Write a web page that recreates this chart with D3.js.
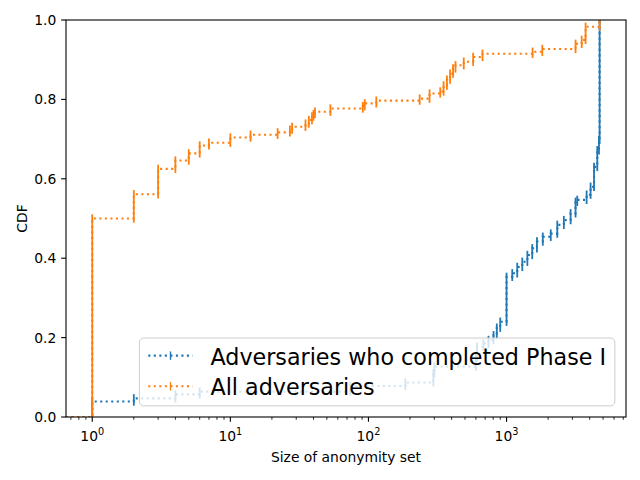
<!DOCTYPE html>
<html>
<head>
<meta charset="utf-8">
<script src="https://cdn.jsdelivr.net/npm/d3@7"></script>
<style>
  body { margin: 0; background: #fff; }
  svg { font-family: "DejaVu Sans", sans-serif; }
</style>
</head>
<body>
<div id="chart"></div>
<script>
// anonymity set size -> cumulative fraction
const phaseOneSizes = [1, 2, 4, 6, 74, 185, 295, 300, 600, 610, 680, 740, 805, 850, 900,
    1000, 1100, 1195, 1300, 1415, 1535, 1660, 1830, 2090, 2330, 2600, 2910, 3160, 3250,
    3800, 4060, 4300, 4540, 4670, 4720]
const phaseOneCdf = [0.039, 0.047, 0.057, 0.064, 0.078, 0.087, 0.110, 0.127, 0.150, 0.177,
    0.185, 0.194, 0.206, 0.225, 0.240, 0.353, 0.362, 0.378, 0.391, 0.408, 0.425, 0.442,
    0.454, 0.462, 0.484, 0.496, 0.513, 0.542, 0.547, 0.560, 0.580, 0.630, 0.672, 0.698, 1.0]

const allSizes = [1, 2, 3, 4, 5, 6, 7, 10, 14, 22, 27, 28, 35, 37, 39, 40, 41, 53, 91, 94,
    114, 235, 277, 331, 350, 370, 390, 410, 427, 490, 573, 670, 1543, 1815, 3160, 3500,
    3735, 4720]
const allCdf = [0.5, 0.561, 0.625, 0.646, 0.664, 0.684, 0.691, 0.704, 0.711, 0.717, 0.724,
    0.731, 0.739, 0.748, 0.757, 0.763, 0.769, 0.777, 0.783, 0.790, 0.797, 0.802, 0.815,
    0.820, 0.835, 0.850, 0.865, 0.878, 0.886, 0.895, 0.907, 0.915, 0.920, 0.927, 0.940,
    0.950, 0.983, 1.0]

const seriesNames = ['Adversaries who completed Phase I', 'All adversaries']
const seriesColors = ['#1f77b4', '#ff7f0e']
const yTicks = [0, 0.2, 0.4, 0.6, 0.8, 1.0]
const xMajorTicks = [1, 10, 100, 1000]

const width = 640, height = 480
const margin = {top: 20, right: 14, bottom: 63, left: 66}
const fontPx = 10 * 100 / 72
const legendPx = 16 * 100 / 72
const markHalf = 6 * 100 / 72 / 2

const svg = d3.select('#chart')
    .append('svg')
    .attr('width', width)
    .attr('height', height)

const x = d3.scaleLog()
    .domain([Math.pow(10, -0.19), Math.pow(10, 3.865)])
    .range([margin.left, width - margin.right])

const y = d3.scaleLinear()
    .domain([0, 1])
    .range([height - margin.bottom, margin.top])

svg.append('clipPath')
    .attr('id', 'plot-clip')
    .append('rect')
    .attr('x', margin.left)
    .attr('y', margin.top)
    .attr('width', width - margin.left - margin.right)
    .attr('height', height - margin.top - margin.bottom)

const series = [
    {sizes: phaseOneSizes, cdf: phaseOneCdf},
    {sizes: allSizes, cdf: allCdf}
]

const line = d3.line()
    .x((d) => x(d[0]))
    .y((d) => y(d[1]))
    .curve(d3.curveStepAfter)

const plot = svg.append('g').attr('clip-path', 'url(#plot-clip)')

series.forEach(function (s, k) {
    // the zero size entries fall off the log axis, so the curve starts at the left edge
    var pts = [[x.domain()[0], 0]]
    s.sizes.forEach((v, i) => pts.push([v, s.cdf[i]]))

    plot.append('path')
        .attr('d', line(pts))
        .attr('fill', 'none')
        .attr('stroke', seriesColors[k])
        .attr('stroke-width', 1.5 * 100 / 72)
        .attr('stroke-dasharray', '2.08,3.44')

    // '|' markers, stacked along each jump
    plot.selectAll(null)
        .data(s.sizes)
        .enter()
        .append('line')
        .attr('x1', (d) => x(d))
        .attr('x2', (d) => x(d))
        .attr('y1', (d, i) => y(i > 0 ? s.cdf[i - 1] : 0) + markHalf)
        .attr('y2', (d, i) => y(s.cdf[i]) - markHalf)
        .attr('stroke', seriesColors[k])
        .attr('stroke-width', 1.8)
})

// frame
svg.append('rect')
    .attr('x', margin.left)
    .attr('y', margin.top)
    .attr('width', width - margin.left - margin.right)
    .attr('height', height - margin.top - margin.bottom)
    .attr('fill', 'none')
    .attr('stroke', 'black')
    .attr('stroke-width', 1.1)

// y ticks
const yAxis = svg.append('g')
yAxis.selectAll('line')
    .data(yTicks)
    .enter()
    .append('line')
    .attr('x1', margin.left - 4.86)
    .attr('x2', margin.left)
    .attr('y1', (d) => y(d))
    .attr('y2', (d) => y(d))
    .attr('stroke', 'black')
    .attr('stroke-width', 1.1)
yAxis.selectAll('text')
    .data(yTicks)
    .enter()
    .append('text')
    .attr('x', margin.left - 9.7)
    .attr('y', (d) => y(d))
    .attr('dy', '0.36em')
    .attr('text-anchor', 'end')
    .attr('font-size', fontPx)
    .text((d) => d.toFixed(1))

// x ticks, major and minor
const baseY = height - margin.bottom
const minorTicks = x.ticks().filter((d) => xMajorTicks.indexOf(d) < 0)
const xAxis = svg.append('g')
xAxis.selectAll('line.minor')
    .data(minorTicks)
    .enter()
    .append('line')
    .attr('x1', (d) => x(d))
    .attr('x2', (d) => x(d))
    .attr('y1', baseY)
    .attr('y2', baseY + 2.78)
    .attr('stroke', 'black')
    .attr('stroke-width', 0.83)
xAxis.selectAll('line.major')
    .data(xMajorTicks)
    .enter()
    .append('line')
    .attr('x1', (d) => x(d))
    .attr('x2', (d) => x(d))
    .attr('y1', baseY)
    .attr('y2', baseY + 4.86)
    .attr('stroke', 'black')
    .attr('stroke-width', 1.1)
var labels = xAxis.selectAll('text')
    .data(xMajorTicks)
    .enter()
    .append('text')
    .attr('x', (d) => x(d))
    .attr('y', baseY + 24)
    .attr('text-anchor', 'middle')
    .attr('font-size', fontPx)
labels.append('tspan').text('10')
labels.append('tspan')
    .attr('dy', -6)
    .attr('font-size', fontPx * 0.7)
    .text((d) => Math.round(Math.log10(d)))

// axis titles
svg.append('text')
    .attr('x', (margin.left + width - margin.right) / 2)
    .attr('y', 462)
    .attr('text-anchor', 'middle')
    .attr('font-size', fontPx)
    .text('Size of anonymity set')
svg.append('text')
    .attr('transform', 'translate(27,' + (margin.top + height - margin.bottom) / 2 + ') rotate(-90)')
    .attr('text-anchor', 'middle')
    .attr('font-size', fontPx)
    .text('CDF')

// legend
const legend = svg.append('g')
const pad = 0.4 * legendPx, handleLen = 2 * legendPx, textPad = 0.8 * legendPx
const rowH = 19.5, rowGap = 0.5 * legendPx
const boxRight = width - margin.right - 0.5 * legendPx
const boxBottom = height - margin.bottom - 0.5 * legendPx
const boxH = 2 * pad + 2 * rowH + rowGap

const frame = legend.append('rect')
    .attr('fill', 'white')
    .attr('fill-opacity', 0.8)
    .attr('stroke', '#cccccc')
    .attr('stroke-width', 1)
    .attr('rx', 0.2 * legendPx)

var texts = legend.selectAll('text')
    .data(seriesNames)
    .enter()
    .append('text')
    .attr('font-size', legendPx)
    .text((d) => d)
var textW = d3.max(texts.nodes(), (n) => n.getComputedTextLength())
const boxW = 2 * pad + handleLen + textPad + textW
const boxLeft = boxRight - boxW
const boxTop = boxBottom - boxH
frame.attr('x', boxLeft).attr('y', boxTop).attr('width', boxW).attr('height', boxH)

seriesNames.forEach(function (name, k) {
    var cy = boxTop + pad + rowH / 2 + k * (rowH + rowGap) - 1
    var hx = boxLeft + pad
    legend.append('line')
        .attr('x1', hx).attr('x2', hx + handleLen)
        .attr('y1', cy).attr('y2', cy)
        .attr('stroke', seriesColors[k])
        .attr('stroke-width', 1.5 * 100 / 72)
        .attr('stroke-dasharray', '2.08,3.44')
    legend.append('line')
        .attr('x1', hx + handleLen / 2).attr('x2', hx + handleLen / 2)
        .attr('y1', cy - markHalf).attr('y2', cy + markHalf)
        .attr('stroke', seriesColors[k])
        .attr('stroke-width', 1.4)
})
texts.attr('x', boxLeft + pad + handleLen + textPad)
    .attr('y', (d, k) => boxTop + pad + rowH / 2 + k * (rowH + rowGap) + 8)
</script>
</body>
</html>
